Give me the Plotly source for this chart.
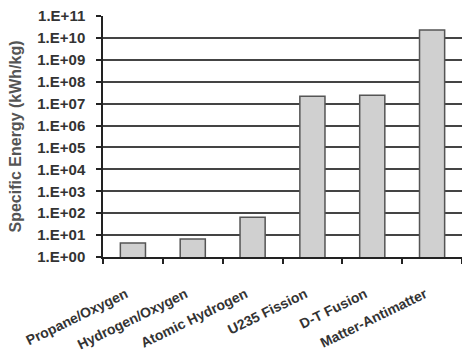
import plotly.graph_objects as go

categories = ["Propane/Oxygen", "Hydrogen/Oxygen", "Atomic Hydrogen", "U235 Fission", "D-T Fusion", "Matter-Antimatter"]
energy_kwh_per_kg = [4.4, 6.6, 65, 2.2e7, 2.4e7, 2.3e10]
tick_values = [10 ** i for i in range(12)]
tick_labels = ["1.E+%02d" % i for i in range(12)]

fig = go.Figure(go.Bar(
    x=categories,
    y=energy_kwh_per_kg,
    width=0.42,
    marker=dict(color="#d0d0d0", line=dict(color="#555555", width=1.5)),
))

fig.update_layout(
    width=462, height=356,
    margin=dict(l=103, r=0, t=16, b=99, autoexpand=False),
    paper_bgcolor="white", plot_bgcolor="white",
    showlegend=False,
    font=dict(family="Liberation Sans, Arial, sans-serif", color="#333333"),
)
fig.update_yaxes(
    type="log", range=[0, 11], automargin=False,
    tickvals=tick_values, ticktext=tick_labels,
    tickfont=dict(size=15, weight="bold", color="#333333"),
    showgrid=True, gridcolor="#444444", gridwidth=1.5,
    showline=True, linecolor="#222222", linewidth=1.5,
    ticks="outside", ticklen=5, tickcolor="#222222", tickwidth=1.5,
    ticklabelstandoff=8,
    title=dict(text="Specific Energy (kWh/kg)", font=dict(size=16, weight="bold", color="#555555"), standoff=12),
    zeroline=False,
)
fig.update_xaxes(
    type="category", automargin=False,
    tickangle=-26,
    tickfont=dict(size=14, weight="bold", color="#333333"),
    showline=True, linecolor="#222222", linewidth=1.5,
    ticks="outside", ticklen=5, tickcolor="#222222", tickwidth=1.5,
    tickson="boundaries",
    ticklabelstandoff=22,
    ticklabelshift=-7,
    showgrid=False,
)

fig.write_html(
    "out.html",
    config={"displayModeBar": False},
    post_script="document.body.style.margin='0';document.body.style.overflow='hidden';",
)
